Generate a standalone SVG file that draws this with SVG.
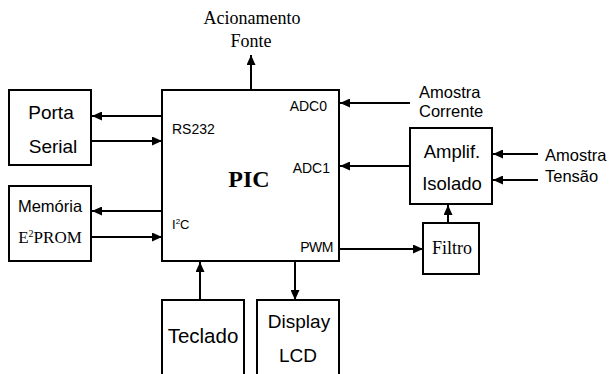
<svg xmlns="http://www.w3.org/2000/svg" width="611" height="374" viewBox="0 0 611 374">
<defs>
<marker id="ah" markerUnits="userSpaceOnUse" markerWidth="10" markerHeight="9" refX="10" refY="4.5" orient="auto">
<path d="M0,0 L10,4.5 L0,9 z" fill="#000"/>
</marker>
<style>
.box{fill:#fff;stroke:#000;stroke-width:2}
.ln{stroke:#000;stroke-width:2;fill:none;marker-end:url(#ah)}
.s{font-family:"Liberation Sans",Arial,sans-serif;fill:#000}
.t{font-family:"Liberation Serif","Times New Roman",serif;fill:#000}
</style>
</defs>
<rect width="611" height="374" fill="#fff"/>
<g id="connectors">
<line class="ln" x1="251" y1="90" x2="251" y2="55"/>
<line class="ln" x1="162" y1="116" x2="92" y2="116"/>
<line class="ln" x1="91" y1="141" x2="162" y2="141"/>
<line class="ln" x1="162" y1="211" x2="92" y2="211"/>
<line class="ln" x1="91" y1="237" x2="162" y2="237"/>
<line class="ln" x1="200" y1="300" x2="200" y2="262"/>
<line class="ln" x1="295" y1="261" x2="295" y2="300"/>
<line class="ln" x1="410" y1="103" x2="340" y2="103"/>
<line class="ln" x1="410" y1="166" x2="340" y2="166"/>
<line class="ln" x1="538" y1="154" x2="493" y2="154"/>
<line class="ln" x1="538" y1="180" x2="493" y2="180"/>
<line class="ln" x1="339" y1="249" x2="423" y2="249"/>
<line class="ln" x1="448" y1="223" x2="448" y2="205"/>
</g>
<g id="pic">
<rect class="box" x="162" y="90" width="177" height="171"/>
<text class="t" x="249" y="187" font-size="24" font-weight="bold" text-anchor="middle">PIC</text>
<text class="s" x="172" y="134" font-size="14">RS232</text>
<text class="s" x="327" y="111" font-size="14" text-anchor="end">ADC0</text>
<text class="s" x="330" y="173" font-size="14" text-anchor="end">ADC1</text>
<text class="s" x="172" y="229" font-size="13">I<tspan font-size="8" dy="-5">2</tspan><tspan dy="5">C</tspan></text>
<text class="s" x="333" y="252" font-size="14" text-anchor="end" letter-spacing="-0.5">PWM</text>
</g>
<g id="acionamento">
<text class="t" x="252" y="24" font-size="18" text-anchor="middle">Acionamento</text>
<text class="t" x="251" y="47" font-size="18" text-anchor="middle">Fonte</text>
</g>
<g id="porta-serial">
<rect class="box" x="9" y="90" width="82" height="75"/>
<text class="s" x="51" y="119" font-size="19" text-anchor="middle">Porta</text>
<text class="s" x="53" y="153" font-size="19" text-anchor="middle">Serial</text>
</g>
<g id="memoria">
<rect class="box" x="9" y="186" width="82" height="75"/>
<text class="s" x="50" y="212" font-size="16.5" text-anchor="middle">Memória</text>
<text class="t" x="50" y="243" font-size="17" text-anchor="middle">E<tspan font-size="10" dy="-6">2</tspan><tspan dy="6">PROM</tspan></text>
</g>
<g id="teclado">
<rect class="box" x="162" y="300" width="82" height="80"/>
<text class="s" x="203" y="343" font-size="20.5" text-anchor="middle">Teclado</text>
</g>
<g id="display">
<rect class="box" x="257" y="300" width="82" height="80"/>
<text class="s" x="299" y="328" font-size="19" text-anchor="middle">Display</text>
<text class="s" x="298" y="362" font-size="19" text-anchor="middle">LCD</text>
</g>
<g id="amostra-corrente">
<text class="s" x="419" y="98" font-size="16.5">Amostra</text>
<text class="s" x="419" y="117" font-size="16.5">Corrente</text>
</g>
<g id="amplif">
<rect class="box" x="410" y="128" width="82" height="76"/>
<text class="s" x="452" y="158" font-size="18.5" text-anchor="middle">Amplif.</text>
<text class="s" x="452" y="190" font-size="18.5" text-anchor="middle">Isolado</text>
</g>
<g id="amostra-tensao">
<text class="s" x="545" y="161" font-size="16.5">Amostra</text>
<text class="s" x="545" y="182" font-size="16.5">Tensão</text>
</g>
<g id="filtro">
<rect class="box" x="423" y="223" width="56" height="51"/>
<text class="t" x="452" y="254" font-size="18" text-anchor="middle">Filtro</text>
</g>
</svg>
